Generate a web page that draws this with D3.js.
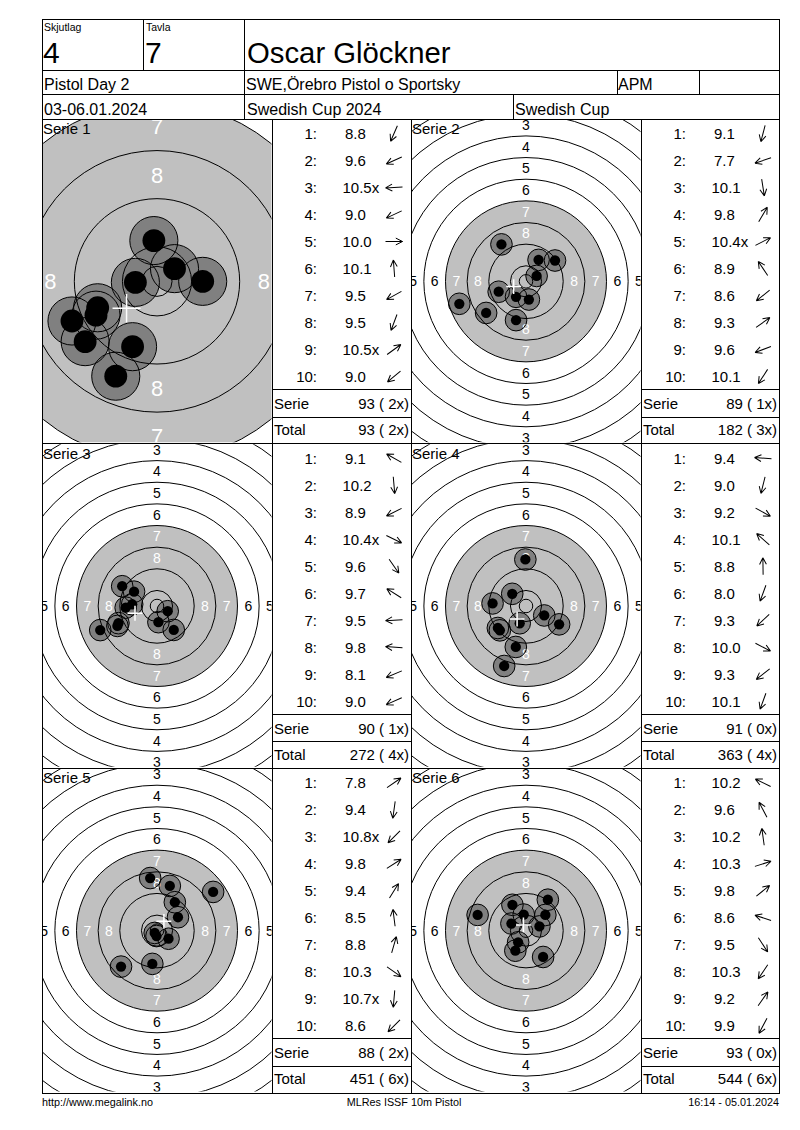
<!DOCTYPE html>
<html lang="sv">
<head>
<meta charset="UTF-8">
<title>Oscar Glöckner - Pistol Day 2</title>
<script src="https://d3js.org/d3.v7.min.js"></script>
<style>
  body { margin: 0; background: #fff; }
  svg { display: block; font-family: "Liberation Sans", Arial, sans-serif; }
</style>
</head>
<body>
<script>
const width = 800;
const height = 1130;

// header texts
const headerTop = ["Skjutlag", "Tavla"];
const headerBig = ["4", "7", "Oscar Glöckner"];
const headerRow2 = ["Pistol Day 2", "SWE,Örebro Pistol o Sportsky", "APM", ""];
const headerRow3 = ["03-06.01.2024", "Swedish Cup 2024", "Swedish Cup"];
const footer = ["http://www.megalink.no", "MLRes ISSF 10m Pistol", "16:14 - 05.01.2024"];

// series data read from the card
const serieNames = ["Serie 1", "Serie 2", "Serie 3", "Serie 4", "Serie 5", "Serie 6"];
const shotScores = [
  ["8.8", "9.6", "10.5x", "9.0", "10.0", "10.1", "9.5", "9.5", "10.5x", "9.0"],
  ["9.1", "7.7", "10.1", "9.8", "10.4x", "8.9", "8.6", "9.3", "9.6", "10.1"],
  ["9.1", "10.2", "8.9", "10.4x", "9.6", "9.7", "9.5", "9.8", "8.1", "9.0"],
  ["9.4", "9.0", "9.2", "10.1", "8.8", "8.0", "9.3", "10.0", "9.3", "10.1"],
  ["7.8", "9.4", "10.8x", "9.8", "9.4", "8.5", "8.8", "10.3", "10.7x", "8.6"],
  ["10.2", "9.6", "10.2", "10.3", "9.8", "8.6", "9.5", "10.3", "9.2", "9.9"]
];
// direction of each shot from the centre, degrees (0 = right, 90 = up)
const shotAngles = [
  [246.5, 204, 182.7, 205, 0, 94.4, 209, 249.5, 36, 220],
  [255.6, 198.6, 279, 59.7, 27, 123.6, 218.4, 35.7, 200.8, 237.2],
  [150.4, 275, 206.7, 334, 305, 148, 183, 176, 203, 204],
  [175.6, 256, 331, 138.5, 90.8, 250, 223, 332.6, 218, 250],
  [34.6, 262, 225, 32.6, 57.9, 97.4, 74, 325, 265, 225],
  [154, 117.7, 98, 17.5, 39, 162, 303, 236, 54.8, 242]
];
const serieScores = ["93 ( 2x)", "89 ( 1x)", "90 ( 1x)", "91 ( 0x)", "88 ( 2x)", "93 ( 0x)"];
const totalScores = ["93 ( 2x)", "182 ( 3x)", "272 ( 4x)", "363 ( 4x)", "451 ( 6x)", "544 ( 6x)"];
// visible target height in mm for each panel (serie 1 is zoomed in)
const viewMM = [54, 120, 120, 120, 120, 120];

const ringScores = d3.range(1, 11);
const labelScores = d3.range(1, 9);

// ISSF 10m air pistol target geometry (mm)
const ringR = s => 5.75 + (10 - s) * 8;
const innerTenR = 2.5;
const blackR = ringR(7);
const holeR = 4.0;
const coreR = 1.9;

const svg = d3.select("body").append("svg")
    .attr("width", width)
    .attr("height", height);

const colX = [42, 272, 411, 641, 779];
const rowY = [119, 443.7, 768.3, 1093];

const defs = svg.append("defs");

function drawTarget(i, x0, y0, w, h) {
    const k = h / viewMM[i];
    const cx = x0 + w / 2, cy = y0 + h / 2;
    const sx = d3.scaleLinear().domain([0, 1]).range([cx, cx + k]);
    const sy = d3.scaleLinear().domain([0, 1]).range([cy, cy - k]);
    const sr = d3.scaleLinear().domain([0, 1]).range([0, k]);

    defs.append("clipPath").attr("id", "clip" + i)
      .append("rect").attr("x", x0 + 0.5).attr("y", y0 + 0.5).attr("width", w - 1).attr("height", h - 2);

    const g = svg.append("g").attr("clip-path", "url(#clip" + i + ")");

    const shots = shotScores[i].map((sc, j) => {
        const r = (10.95 - parseFloat(sc)) * 8;
        const a = shotAngles[i][j] * Math.PI / 180;
        return {x: r * Math.cos(a), y: r * Math.sin(a)};
    });

    g.append("circle")
        .attr("cx", sx(0)).attr("cy", sy(0)).attr("r", sr(blackR))
        .attr("fill", "#c0c0c0");

    g.selectAll(".hole").data(shots).join("circle")
        .attr("cx", d => sx(d.x)).attr("cy", d => sy(d.y)).attr("r", sr(holeR))
        .attr("fill", "#808080");

    g.selectAll(".ring").data(ringScores).join("circle")
        .attr("cx", sx(0)).attr("cy", sy(0)).attr("r", d => sr(ringR(d)))
        .attr("fill", "none").attr("stroke", "#000").attr("stroke-width", 1);
    g.append("circle")
        .attr("cx", sx(0)).attr("cy", sy(0)).attr("r", sr(innerTenR))
        .attr("fill", "none").attr("stroke", "#000").attr("stroke-width", 1);

    const fontSize = 7.5 + 2.4 * k;
    const labels = [];
    labelScores.forEach(s => {
        const rl = ringR(s) - 4;
        [[0, rl], [0, -rl], [rl, 0], [-rl, 0]].forEach(p => labels.push({s, x: p[0], y: p[1]}));
    });
    g.selectAll(".lbl").data(labels).join("text")
        .attr("x", d => sx(d.x)).attr("y", d => sy(d.y))
        .attr("dy", "0.36em")
        .attr("text-anchor", "middle")
        .attr("font-size", fontSize)
        .attr("fill", d => d.s >= 7 ? "#fff" : "#000")
        .text(d => d.s);

    g.selectAll(".core").data(shots).join("circle")
        .attr("cx", d => sx(d.x)).attr("cy", d => sy(d.y)).attr("r", sr(coreR))
        .attr("fill", "#000");

    g.selectAll(".outline").data(shots).join("circle")
        .attr("cx", d => sx(d.x)).attr("cy", d => sy(d.y)).attr("r", sr(holeR))
        .attr("fill", "none").attr("stroke", "#000").attr("stroke-width", 1);

    // mean point of impact
    const mx = d3.mean(shots, d => d.x), my = d3.mean(shots, d => d.y);
    const arm = 2 + 2 * k;
    g.append("path")
        .attr("d", `M${sx(mx) - arm},${sy(my)}H${sx(mx) + arm}M${sx(mx)},${sy(my) - arm}V${sy(my) + arm}`)
        .attr("stroke", "#fff").attr("stroke-width", 1.5).attr("fill", "none");

    g.append("text")
        .attr("x", x0 + 1).attr("y", y0 + 15)
        .attr("font-size", 15)
        .text(serieNames[i]);
}

function drawTable(i, x0, y0, w) {
    const g = svg.append("g");
    const rowYs = d3.scaleLinear().domain([0, 9]).range([y0 + 14.5, y0 + 257.5]);

    g.selectAll(".num").data(shotScores[i]).join("text")
        .attr("x", x0 + 45).attr("y", (d, j) => rowYs(j))
        .attr("dy", "0.36em").attr("text-anchor", "end").attr("font-size", 15)
        .text((d, j) => (j + 1) + ":");

    g.selectAll(".sc").data(shotScores[i]).join("text")
        .attr("x", d => parseFloat(d) >= 10 ? x0 + 70.5 : x0 + 73)
        .attr("y", (d, j) => rowYs(j))
        .attr("dy", "0.36em").attr("font-size", 15)
        .text(d => d);

    g.selectAll(".arr").data(shotAngles[i]).join("path")
        .attr("transform", (d, j) => `translate(${x0 + 122},${rowYs(j)}) rotate(${-d})`)
        .attr("d", "M-8.5,0L8.5,0M8.5,0L1.8,-3.4M8.5,0L1.8,3.4")
        .attr("stroke", "#000").attr("stroke-width", 1).attr("fill", "none");

    [["Serie", serieScores[i], y0 + 284.5], ["Total", totalScores[i], y0 + 310.5]].forEach(r => {
        g.append("text").attr("x", x0 + 2).attr("y", r[2]).attr("dy", "0.36em")
            .attr("font-size", 15).text(r[0]);
        g.append("text").attr("x", x0 + w - 2).attr("y", r[2]).attr("dy", "0.36em")
            .attr("text-anchor", "end").attr("font-size", 15).text(r[1]);
    });

    g.append("path")
        .attr("d", `M${x0},${y0 + 270.5}H${x0 + w}M${x0},${y0 + 298}H${x0 + w}`)
        .attr("stroke", "#000").attr("stroke-width", 1).attr("shape-rendering", "crispEdges");
}

serieNames.forEach((name, i) => {
    const c = i % 2, r = Math.floor(i / 2);
    const tx = colX[c * 2], ty = rowY[r];
    drawTarget(i, tx, ty, colX[c * 2 + 1] - tx, rowY[r + 1] - ty);
    drawTable(i, colX[c * 2 + 1], ty, colX[c * 2 + 2] - colX[c * 2 + 1]);
});

// frame and grid lines
const grid = svg.append("g")
    .attr("stroke", "#000").attr("stroke-width", 1)
    .attr("fill", "none").attr("shape-rendering", "crispEdges");
grid.append("rect").attr("x", 42).attr("y", 19.5).attr("width", 737).attr("height", 1073.5);
[70, 94.5, 119].forEach(y => grid.append("line").attr("x1", 42).attr("x2", 779).attr("y1", y).attr("y2", y));
[[143.5, 19.5, 70], [244, 19.5, 119], [617, 70, 94.5], [699, 70, 94.5], [513, 94.5, 119]].forEach(v =>
    grid.append("line").attr("x1", v[0]).attr("x2", v[0]).attr("y1", v[1]).attr("y2", v[2]));
colX.slice(1, 4).forEach(x => grid.append("line").attr("x1", x).attr("x2", x).attr("y1", 119).attr("y2", 1093));
rowY.slice(1, 3).forEach(y => grid.append("line").attr("x1", 42).attr("x2", 779).attr("y1", y).attr("y2", y));

// header texts
const head = svg.append("g");
[44, 146].forEach((x, j) => {
    head.append("text").attr("x", x).attr("y", 30.5).attr("font-size", 10.5).text(headerTop[j]);
});
[[43, 30], [145, 30], [247, 29.3]].forEach((p, j) => {
    head.append("text").attr("x", p[0]).attr("y", 63).attr("font-size", p[1]).text(headerBig[j]);
});
[44, 246, 618, 701].forEach((x, j) => {
    head.append("text").attr("x", x).attr("y", 90).attr("font-size", 16).text(headerRow2[j]);
});
[44, 247, 515].forEach((x, j) => {
    head.append("text").attr("x", x).attr("y", 114.5).attr("font-size", 16).text(headerRow3[j]);
});

// footer
const foot = svg.append("g").attr("font-size", 10.8);
foot.append("text").attr("x", 42).attr("y", 1106).text(footer[0]);
foot.append("text").attr("x", 404).attr("y", 1106).attr("text-anchor", "middle").text(footer[1]);
foot.append("text").attr("x", 779).attr("y", 1106).attr("text-anchor", "end").text(footer[2]);
</script>
</body>
</html>
